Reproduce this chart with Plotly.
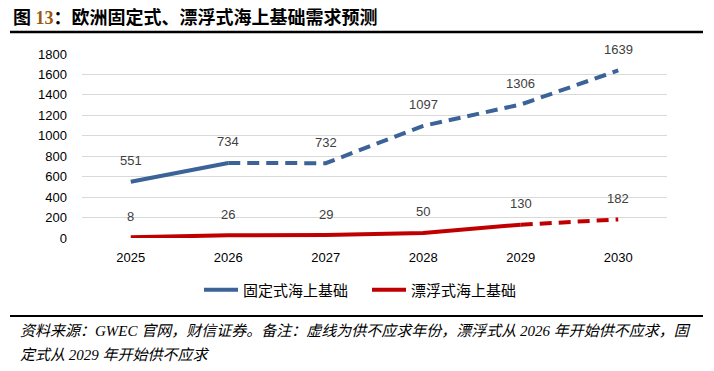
import plotly.graph_objects as go

years = ["2025", "2026", "2027", "2028", "2029", "2030"]
fixed = [551, 734, 732, 1097, 1306, 1639]
floating = [8, 26, 29, 50, 130, 182]
fixed_name = "固定式海上基础"
floating_name = "漂浮式海上基础"
fixed_solid_end = 2     # solid through 2026
floating_solid_end = 5  # solid through 2029
y_ticks = [0, 200, 400, 600, 800, 1000, 1200, 1400, 1600, 1800]

BLUE = "#3B6397"
RED = "#C00000"
LBL = "#404040"
NUM_FONT = "Liberation Sans"
CJK = "Noto Sans CJK SC"

fig = go.Figure()

fig.add_trace(go.Scatter(x=years[:fixed_solid_end], y=fixed[:fixed_solid_end], mode="lines",
                         line=dict(color=BLUE, width=4), name=fixed_name, legendgroup="f"))
fig.add_trace(go.Scatter(x=years[fixed_solid_end - 1:], y=fixed[fixed_solid_end - 1:], mode="lines",
                         line=dict(color=BLUE, width=4, dash="12px,7px"), showlegend=False, legendgroup="f"))
fig.add_trace(go.Scatter(x=years[:floating_solid_end], y=floating[:floating_solid_end], mode="lines",
                         line=dict(color=RED, width=4), name=floating_name, legendgroup="r"))
fig.add_trace(go.Scatter(x=years[floating_solid_end - 1:], y=floating[floating_solid_end - 1:], mode="lines",
                         line=dict(color=RED, width=4, dash="12px,7px"), showlegend=False, legendgroup="r"))

annotations = []
for i, yv in enumerate(fixed):
    annotations.append(dict(x=i, y=yv, text=str(yv), showarrow=False, yshift=21, yanchor="middle",
                            font=dict(family=NUM_FONT, size=13, color=LBL)))
for i, yv in enumerate(floating):
    annotations.append(dict(x=i, y=yv, text=str(yv), showarrow=False, yshift=21, yanchor="middle",
                            font=dict(family=NUM_FONT, size=13, color=LBL)))

FOOT_FONT = dict(family="Liberation Serif, " + CJK, size=15, color="#000000")
annotations.append(dict(xref="paper", yref="paper", x=(18 - 82) / 585, y=(238 - 331) / 184,
                        xanchor="left", yanchor="middle", showarrow=False, align="left",
                        text="<i>资料来源：GWEC 官网，财信证券。备注：虚线为供不应求年份，漂浮式从 2026 年开始供不应求，固</i>",
                        font=FOOT_FONT))
annotations.append(dict(xref="paper", yref="paper", x=(18 - 82) / 585, y=(238 - 355) / 184,
                        xanchor="left", yanchor="middle", showarrow=False, align="left",
                        text="<i>定式从 2029 年开始供不应求</i>",
                        font=FOOT_FONT))

shapes = [
    dict(type="line", xref="paper", yref="paper", x0=(10 - 82) / 585, x1=(703 - 82) / 585,
         y0=(238 - 32) / 184, y1=(238 - 32) / 184, line=dict(color="#000000", width=2.5)),
    dict(type="line", xref="paper", yref="paper", x0=(10 - 82) / 585, x1=(703 - 82) / 585,
         y0=(238 - 316) / 184, y1=(238 - 316) / 184, line=dict(color="#000000", width=2)),
]

fig.update_layout(
    width=714, height=371,
    margin=dict(l=82, r=47, t=54, b=133, autoexpand=False),
    paper_bgcolor="white", plot_bgcolor="white",
    title=dict(text="<b>图 <span style='color:#9A5A14'>13</span>：欧洲固定式、漂浮式海上基础需求预测</b>",
               xref="container", yref="container", x=13 / 714, y=1 - 18 / 371,
               xanchor="left", yanchor="middle",
               font=dict(family="Liberation Serif, " + CJK, size=18, color="#000000")),
    showlegend=True,
    legend=dict(orientation="h", xref="container", yref="container", x=199 / 714, y=1 - 290 / 371,
                xanchor="left", yanchor="middle", font=dict(family=CJK, size=15, color="#000000"),
                itemwidth=34, entrywidth=119, tracegroupgap=0),
    annotations=annotations,
    shapes=shapes,
)
fig.update_xaxes(type="category", range=[-0.5, 5.5], showgrid=False, showline=False, zeroline=False,
                 ticks="", tickfont=dict(family=NUM_FONT, size=13, color="#000000"), ticklabelstandoff=10)
fig.update_yaxes(range=[0, 1800], tickvals=y_ticks, showgrid=True, gridcolor="#D9D9D9", gridwidth=1,
                 zeroline=False, showline=False, ticks="",
                 tickfont=dict(family=NUM_FONT, size=13, color="#000000"), ticklabelstandoff=14)

fig.write_html("out.html", config={"displayModeBar": False},
               post_script="document.body.style.margin='0';document.body.style.padding='0';")
